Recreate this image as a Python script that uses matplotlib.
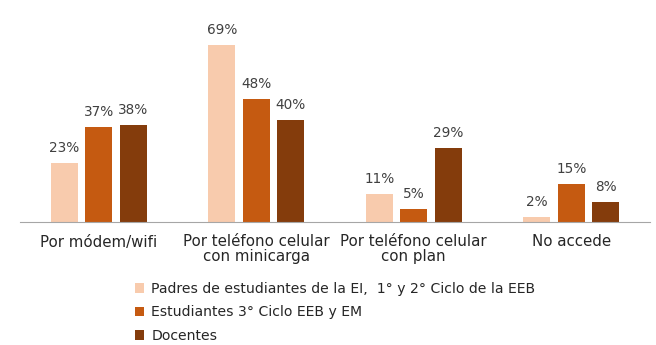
import matplotlib
matplotlib.use("Agg")
import matplotlib.pyplot as plt
import numpy as np

categories = ["Por módem/wifi", "Por teléfono celular\ncon minicarga",
              "Por teléfono celular\ncon plan", "No accede"]
series_names = ["Padres de estudiantes de la EI,  1° y 2° Ciclo de la EEB",
                "Estudiantes 3° Ciclo EEB y EM",
                "Docentes"]
padres = [23, 69, 11, 2]
estudiantes = [37, 48, 5, 15]
docentes = [38, 40, 29, 8]
colors = ["#F8CBAD", "#C55A11", "#843C0C"]

plt.rcParams['font.family'] = ['DejaVu Sans']

fig = plt.figure(figsize=(6.56, 3.45), dpi=100)
ax = fig.add_axes([20/656, 123/345, 630/656, 205/345])

x = np.arange(len(categories))
w = 0.171
step = 0.218
bars = []
for i, (vals, name, c) in enumerate(zip([padres, estudiantes, docentes], series_names, colors)):
    b = ax.bar(x + (i - 1) * step, vals, width=w, color=c, label=name)
    bars.append(b)
    for xi, v in zip(x + (i - 1) * step, vals):
        ax.text(xi, v + 3, f"{v}%", ha="center", va="bottom", fontsize=9.8, color="#404040")

ax.set_xlim(-0.5, 3.5)
ax.set_ylim(0, 80)
ax.set_yticks([])
for s in ["top", "right", "left"]:
    ax.spines[s].set_visible(False)
ax.spines["bottom"].set_color("#A6A6A6")
ax.set_xticks(x)
ax.set_xticklabels(categories, fontsize=10.8, color="#262626", linespacing=1.0)
ax.tick_params(axis="x", length=0, pad=9)

leg = fig.legend(handles=bars, labels=series_names, loc="upper left",
                 bbox_to_anchor=(129/656, 1 - 276/345), frameon=False,
                 fontsize=10.1, labelcolor="#262626", handlelength=0.7, handleheight=0.7,
                 handletextpad=0.5, labelspacing=0.7, borderaxespad=0)

fig.savefig("out.png", dpi=100)
